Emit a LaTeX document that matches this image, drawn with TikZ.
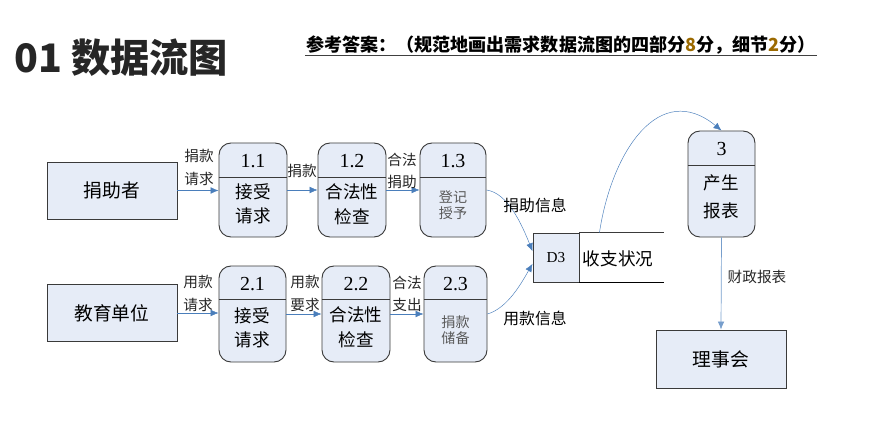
\documentclass[tikz,border=0pt]{standalone}
\usepackage{fontspec}
\setmainfont{Noto Sans CJK SC}
\newfontfamily\numfont{Liberation Serif}
\usetikzlibrary{arrows.meta}
\definecolor{boxfill}{HTML}{E6ECF7}
\definecolor{flowblue}{HTML}{4A7EBB}
\definecolor{edgegray}{HTML}{3A3A3A}
\definecolor{scoretan}{HTML}{9C6A00}

\begin{document}
\begin{tikzpicture}[x=0.03cm, y=-0.03cm,
    entity/.style={draw=edgegray, thick, fill=boxfill, minimum width=3.9cm, minimum height=1.71cm, font=\fontsize{16}{18}\selectfont},
    proc/.style={draw=edgegray, thick, fill=boxfill, rounded corners=0.36cm, minimum width=2.04cm, minimum height=2.82cm},
    num/.style={font=\numfont\fontsize{17}{19}\selectfont},
    ptext/.style={align=center, font=\fontsize{15}{21}\selectfont},
    flow/.style={draw=flowblue, -{Latex[length=2.4mm, width=2mm]}},
    flowlabel/.style={align=center, font=\fontsize{12.5}{20}\selectfont, text=black!85},
    infolabel/.style={font=\fontsize{13.5}{16}\selectfont, text=black}
]
\useasboundingbox (0,0) rectangle (886,448);

% titles
\node[anchor=west, inner sep=0pt, font=\bfseries\fontsize{33.5}{37}\selectfont, text=black!85] (title) at (14,58) {01 数据流图};
\node[anchor=west, inner sep=1pt, font=\bfseries\fontsize{15.4}{17}\selectfont] (answer) at (305,45) {参考答案：（规范地画出需求数据流图的四部分\textcolor{scoretan}{8}分，细节\textcolor{scoretan}{2}分）};
\draw[thick, black!75] (answer.south west) -- (answer.south east);

% external entities
\node[entity] (donor) at (112,190.5) {捐助者};
\node[entity] (school) at (112,313) {教育单位};
\node[entity, minimum height=1.74cm] (board) at (721,359) {理事会};

% row 1 processes
\node[proc] (p11) at (253,190) {};
\draw[edgegray, thick] (p11.north west) ++(0,35) -- ++(68,0);
\node[num] (n11) at (253,161) {1.1};
\node[ptext] (t11) at (253,204) {接受\\请求};

\node[proc] (p12) at (352,190) {};
\draw[edgegray, thick] (p12.north west) ++(0,35) -- ++(68,0);
\node[num] (n12) at (352,161) {1.2};
\node[ptext] (t12) at (352,204) {合法性\\检查};

\node[proc, minimum width=1.98cm] (p13) at (453,190) {};
\draw[edgegray, thick] (p13.north west) ++(0,35) -- ++(66,0);
\node[num] (n13) at (453,161) {1.3};
\node[ptext, font=\fontsize{12}{13.5}\selectfont, text=black!65] (t13) at (453,205) {登记\\授予};

% row 2 processes
\node[proc, minimum width=2.01cm, minimum height=2.88cm] (p21) at (252.5,314) {};
\draw[edgegray, thick] (p21.north west) ++(0,34) -- ++(67,0);
\node[num] (n21) at (252.5,284) {2.1};
\node[ptext] (t21) at (252.5,328) {接受\\请求};

\node[proc, minimum height=2.88cm] (p22) at (356,314) {};
\draw[edgegray, thick] (p22.north west) ++(0,34) -- ++(68,0);
\node[num] (n22) at (356,284) {2.2};
\node[ptext] (t22) at (356,327) {合法性\\检查};

\node[proc, minimum width=1.89cm, minimum height=2.88cm] (p23) at (455.5,314) {};
\draw[edgegray, thick] (p23.north west) ++(0,34) -- ++(63,0);
\node[num] (n23) at (455.5,284) {2.3};
\node[ptext, font=\fontsize{12}{13.5}\selectfont, text=black!65] (t23) at (455.5,330) {捐款\\储备};

% process 3
\node[proc, minimum width=2.01cm, minimum height=3.18cm] (p3) at (721.5,184) {};
\draw[edgegray, thick] (p3.north west) ++(0,35) -- ++(67,0);
\node[num] (n3) at (721.5,149) {3};
\node[ptext, font=\fontsize{15}{24}\selectfont] (t3) at (721.5,197) {产生\\报表};

% data store
\node[draw=edgegray, thick, fill=boxfill, minimum width=1.38cm, minimum height=1.47cm, font=\numfont\fontsize{13}{15}\selectfont] (d3) at (556,257.5) {D3};
\draw[edgegray, thick] (d3.north east) -- ++(85,0);
\draw[black, very thick] (d3.south east) -- ++(85,0);
\node[font=\fontsize{15}{17}\selectfont] (d3name) at (618,259) {收支状况};
\coordinate (d3out) at ([xshift=0.6cm]d3.north east);

% flows
\draw[flow] (donor.east) -- (donor.east -| p11.west);
\draw[flow] (p11) -- (p12);
\draw[flow] (p12) -- (p13);
\draw[flow] (school.east) -- (school.east -| p21.west);
\draw[flow] (p21) -- (p22);
\draw[flow] (p22) -- (p23);
\draw[flow] (p13.east) .. controls (508,193) and (522,225) .. (d3.165);
\draw[flow] (p23.east) .. controls (508,308) and (522,282) .. (d3.195);
\draw[flow] (d3out) .. controls (612,150) and (660,80) .. (p3.north);
\draw[flow, draw=flowblue!75, semithick] (p3.south) -- (board.north);

% flow labels
\node[flowlabel] (l1) at (199,167.5) {捐款\\请求};
\node[flowlabel] (l2) at (302,171) {捐款};
\node[flowlabel, font=\fontsize{12.5}{19}\selectfont] (l3) at (402,171) {合法\\捐助};
\node[flowlabel] (l4) at (198,293.5) {用款\\请求};
\node[flowlabel] (l5) at (305,293.5) {用款\\要求};
\node[flowlabel, font=\fontsize{12.5}{19}\selectfont] (l6) at (407,294) {合法\\支出};
\node[infolabel] (l7) at (535,205) {捐助信息};
\node[infolabel] (l8) at (535,318) {用款信息};
\node[flowlabel] (l9) at (757,277) {财政报表};

\end{tikzpicture}
\end{document}
